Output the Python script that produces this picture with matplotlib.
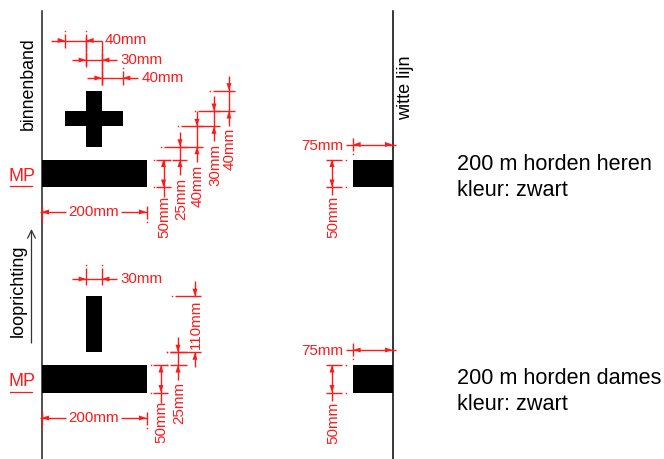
import matplotlib
matplotlib.use('Agg')
import matplotlib.pyplot as plt

plt.rcParams['font.family'] = ['Liberation Sans', 'DejaVu Sans']

# measurements in mm, as labelled on the drawing
bar_width = 200
bar_height = 50
bar_height_drawn = 54  # the source draws the bar a little taller than its label
cross_offset = 45
cross_widths = [40, 30, 40]
cross_heights = [25, 40, 30, 40]
dash_gap = 25
dash_width = 30
dash_length = 110
right_bar_width = 75

titles_top = ['200 m horden heren', 'kleur: zwart']
titles_bottom = ['200 m horden dames', 'kleur: zwart']

# px per mm
SX = 0.525
SY = 0.51

LEFT = 41.5
RIGHT = 392.5
TOP_BAR = 159.5
LOW_BAR = 365
RED = '#ff1a1a'
DIM_SIZE = 10.9


def x_mm(mm):
    return LEFT + mm * SX


def arrow(ax, x, y, dx, dy):
    # small filled arrow with its tip at x, y
    ln, hw = 7.5, 2.5
    ax.fill([x, x + dx * ln - dy * hw, x + dx * ln + dy * hw],
            [y, y + dy * ln - dx * hw, y + dy * ln + dx * hw],
            color=RED, lw=0, zorder=4)


def seg(ax, x1, y1, x2, y2):
    ax.plot([x1, x2], [y1, y2], color=RED, lw=1.0, solid_capstyle='butt', zorder=3)


def dot(ax, x, y):
    ax.plot([x], [y], marker='s', ms=1, color=RED, mew=0, zorder=3)


def hdim(ax, x1, x2, y, label, up=10, down=7):
    # narrow horizontal dimension, arrows outside pointing in, label on the right
    seg(ax, x1 - 14.5, y, x2 + 15.5, y)
    seg(ax, x1, y - up + 3, x1, y + down)
    seg(ax, x2, y - up + 3, x2, y + down)
    dot(ax, x1, y - up)
    dot(ax, x2, y - up)
    arrow(ax, x1, y, -1, 0)
    arrow(ax, x2, y, 1, 0)
    ax.text(x2 + 18.5, y, f'{label}mm', color=RED, fontsize=DIM_SIZE, va='center', ha='left')


def vdim(ax, x, y1, y2, label, text_y, left1=16, left2=16, right=6, split=False):
    # vertical dimension, arrows outside pointing in, rotated label below
    if split:
        seg(ax, x, y1 - 15, x, y1)
        seg(ax, x, y2, x, y2 + 15)
    else:
        seg(ax, x, y1 - 15, x, y2 + 15)
    seg(ax, x - left1, y1, x + right, y1)
    seg(ax, x - left2, y2, x + right, y2)
    dot(ax, x - left1 - 3, y1)
    dot(ax, x - left2 - 3, y2)
    arrow(ax, x, y1, 0, -1)
    arrow(ax, x, y2, 0, 1)
    ax.text(x + 1, text_y, f'{label}mm', color=RED, fontsize=DIM_SIZE, rotation=90,
            va='center', ha='center')


def height_dim(ax, x, y1, y2, label, text_y):
    # arrows between the ticks, pointing out
    seg(ax, x, y1, x, y2 + 10)
    seg(ax, x - 8, y1, x + 7, y1)
    seg(ax, x - 8, y2, x + 7, y2)
    dot(ax, x - 10, y1)
    dot(ax, x - 10, y2)
    arrow(ax, x, y1, 0, 1)
    arrow(ax, x, y2, 0, -1)
    ax.text(x + 0.5, text_y, f'{label}mm', color=RED, fontsize=DIM_SIZE, rotation=90,
            va='center', ha='center')


def width_dim(ax, y, label):
    x2 = x_mm(bar_width)
    seg(ax, LEFT - 2, y, 66, y)
    seg(ax, 121, y, x2, y)
    seg(ax, LEFT, y - 6, LEFT, y + 7)
    seg(ax, x2, y - 6, x2, y + 7)
    dot(ax, LEFT, y + 10)
    dot(ax, x2, y + 10)
    arrow(ax, LEFT, y, 1, 0)
    arrow(ax, x2, y, -1, 0)
    ax.text((66 + 121) / 2, y, f'{label}mm', color=RED, fontsize=DIM_SIZE, va='center', ha='center')


def right_dims(ax, bar_top, label_w, label_h):
    x = RIGHT - right_bar_width * SX
    y = bar_top - 15
    seg(ax, 346, y, RIGHT + 3, y)
    seg(ax, x, y - 7, x, y + 6)
    dot(ax, x, y + 9)
    arrow(ax, x, y, 1, 0)
    arrow(ax, RIGHT, y, -1, 0)
    ax.text(343, y + 1, f'{label_w}mm', color=RED, fontsize=DIM_SIZE, va='center', ha='right')
    y1 = bar_top
    y2 = bar_top + bar_height_drawn * SY
    seg(ax, 332, y1, 332, y2 + 8)
    seg(ax, 326, y1, 342, y1)
    seg(ax, 326, y2, 342, y2)
    dot(ax, 346, y1)
    dot(ax, 346, y2)
    arrow(ax, 332, y1, 0, 1)
    arrow(ax, 332, y2, 0, -1)
    ax.text(333, y2 + 30, f'{label_h}mm', color=RED, fontsize=DIM_SIZE, rotation=90,
            va='center', ha='center')


def bar(ax, x1, x2, y1, y2):
    ax.fill([x1, x2, x2, x1], [y1, y1, y2, y2], color='black', lw=0, zorder=2)


fig = plt.figure(figsize=(6.64, 4.59), dpi=100)
ax = fig.add_axes([0, 0, 1, 1])
ax.set_xlim(0, 664)
ax.set_ylim(459, 0)
ax.axis('off')

# lane lines
ax.plot([LEFT, LEFT], [11, 459], color='#222222', lw=1.1)
ax.plot([RIGHT, RIGHT], [11, 459], color='black', lw=1.1)

# start bars
bar_drawn = bar_height_drawn * SY
for top in [TOP_BAR, LOW_BAR]:
    bar(ax, LEFT, x_mm(bar_width), top, top + bar_drawn)
    bar(ax, RIGHT - right_bar_width * SX, RIGHT, top, top + bar_drawn)
    ax.text(9, top + 17, 'MP', color=RED, fontsize=13, va='center', ha='left')
    ax.plot([10, 32], [top + 26.5, top + 26.5], color=RED, lw=0.9)

# cross, men
xs = [cross_offset]
for w in cross_widths:
    xs.append(xs[-1] + w)
ys = [0]
for h in cross_heights:
    ys.append(ys[-1] + h)
px = [x_mm(v) for v in xs]
py = [TOP_BAR - v * SY for v in ys]
bar(ax, px[1], px[2], py[4], py[1])
bar(ax, px[0], px[3], py[3], py[2])

# cross dimensions
hdim(ax, px[0], px[1], 40.5, cross_widths[0])
hdim(ax, px[1], px[2], 60, cross_widths[1])
hdim(ax, px[2], px[3], 78, cross_widths[2])
seg(ax, px[1], 37, px[1], 65)
seg(ax, px[2], 40.5, px[2], 85)

height_dim(ax, 163.5, TOP_BAR, TOP_BAR + bar_drawn, bar_height, 217)
vdim(ax, 180, py[1], py[0], cross_heights[0], 199, left2=8, right=7)
vdim(ax, 197, py[2], py[1], cross_heights[1], 186)
vdim(ax, 214, py[3], py[2], cross_heights[2], 165)
vdim(ax, 229, py[4], py[3], cross_heights[3], 149)
width_dim(ax, 212, bar_width)
right_dims(ax, TOP_BAR, right_bar_width, bar_height)

# dash, women
dash_x1 = x_mm(cross_offset + cross_widths[0])
dash_x2 = dash_x1 + dash_width * SX
dash_bottom = LOW_BAR - dash_gap * SY
dash_top = dash_bottom - dash_length * SY
bar(ax, dash_x1, dash_x2, dash_top, dash_bottom)

hdim(ax, dash_x1, dash_x2, 279, dash_width, up=14, down=6)
vdim(ax, 195, dash_top, dash_bottom, dash_length, 324.5, left1=20, left2=25, split=True)
vdim(ax, 178, dash_bottom, LOW_BAR, dash_gap, 403, left1=8, left2=8, right=9)
height_dim(ax, 161, LOW_BAR, LOW_BAR + bar_drawn, bar_height, 422)
width_dim(ax, 418, bar_width)
right_dims(ax, LOW_BAR, right_bar_width, bar_height)

# black labels
ax.text(28, 84, 'binnenband', rotation=90, fontsize=12.8, va='center', ha='center')
ax.text(405.5, 88, 'witte lijn', rotation=90, fontsize=13, va='center', ha='center')
ax.text(18.5, 291, 'looprichting', rotation=90, fontsize=13, va='center', ha='center')
ax.annotate('', xy=(31.5, 229), xytext=(31.5, 343),
            arrowprops=dict(arrowstyle='->', color='#333333', lw=0.9, mutation_scale=14,
                            shrinkA=0, shrinkB=0))

for text, y in zip(titles_top, [164, 190]):
    ax.text(457, y, text, fontsize=15.6, va='center', ha='left')
for text, y in zip(titles_bottom, [379, 404]):
    ax.text(457, y, text, fontsize=15.6, va='center', ha='left')

fig.savefig('out.png', dpi=100)
